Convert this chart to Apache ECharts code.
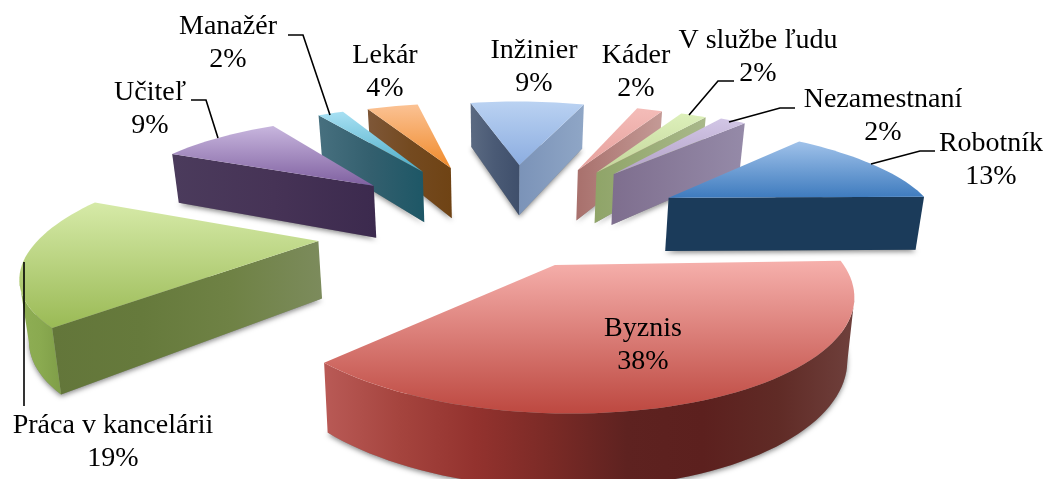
<!DOCTYPE html>
<html>
<head>
<meta charset="utf-8">
<script src="https://cdn.jsdelivr.net/npm/echarts@6/dist/echarts.min.js"></script>
<style>html,body{margin:0;padding:0;background:#fff}#c{width:1050px;height:479px}</style>
</head>
<body>
<div id="c"></div>
<script>
const categories = ['Byznis','Práca v kancelárii','Učiteľ','Manažér','Lekár','Inžinier','Káder','V službe ľudu','Nezamestnaní','Robotník'];
const values = [38,19,9,2,4,9,2,2,2,13];
const explode = [0.42,0.665,0.667,0.69,0.69,0.70,0.71,0.72,0.745,0.72];
const explodeTurn = [-4,-4,0,1.9,1.4,2,2.6,1.9,0,0];
const arcTurn = [-1.5,-1,0,0,0,-1.6,-0.8,0,0,0];
const radiusX = [0.98,1,1,1,1,1,1,1,1,1];
const topColors = [['#f6b0ac','#bd4840'],['#d6eaa8','#9aba55'],['#c8b6de','#7f60a0'],['#a8e0f3','#4aabc6'],['#fbc294','#f08a2a'],['#bad2f2','#8cade0'],['#f4bcb8','#e6a09c'],['#ddf0ba','#c3d69b'],['#d2c6e6','#b3a2c7'],['#a0c2ea','#3e7bbe']];
const arcWall = [['#b95a56','#a5443e','#93322e','#7a2a26','#5e2220','#5c201e','#602b26','#6f403c'],['#8fae55','#8aaa50','#7f9e48'],['#666','#666'],['#666','#666'],['#666','#666'],['#666','#666'],['#999','#999'],['#999','#999'],['#999','#999'],['#1b3b5a','#1b3b5a']];
const startWall = [['#888','#888'],['#63763a','#667a3c','#6f8245','#7c8b5c'],['#4b3b5c','#463356','#3c2a4e'],['#47707f','#335f6e','#1d5766'],['#7e5738','#744a20','#6f4314'],['#5b6a82','#4a5a75','#3f4f6b'],['#a8706c','#c49a96'],['#8fa468','#a9b88a'],['#7e6e8e','#958aa8'],['#1b3b5a','#1b3b5a']];
const endWall = [['#888','#888'],['#888','#888'],['#888','#888'],['#888','#888'],['#888','#888'],['#7b93b8','#8fa6c6'],['#a8706c','#c49a96'],['#8fa468','#a9b88a'],['#7e6e8e','#958aa8'],['#1b3b5a','#1b3b5a']];
const labelAnchors = [[643,345],[113,442],[150,109],[228,43],[385,72],[534,67],[636,72],[758,57],[883,116],[991,160]];
const leaders = [null,[[24,406],[24,262]],[[191,100],[206,100],[218,138]],[[288,35],[303,35],[330,115]],null,null,null,[[734,81],[718,81],[689,115]],[[795,108],[780,108],[729,122]],[[935,151],[920,151],[871,164]]];

const CX=500, HY=-253, C=478, A=272, P=0.2055, ROT=-0.7;
const FONT='"Liberation Serif"';
const total = values.reduce((a,b)=>a+b,0);
const rad = d=>d*Math.PI/180;
function project(X,Y){const w=1/(1-P*Y);return [CX+A*X*w,HY+C*w];}
function drop(p){return [CX+(p[0]-CX)*0.98,p[1]+0.1*(p[1]+335)];}
function grad(cols,vertical){
  return {type:'linear',x:0,y:0,x2:vertical?0:1,y2:vertical?1:0,
    colorStops:cols.map((c,i)=>({offset:cols.length>1?i/(cols.length-1):0,color:c}))};
}
function wall(pts,fill,z){
  const bottom=pts.map(drop).reverse();
  return {type:'polygon',shape:{points:pts.concat(bottom)},style:{fill:fill,stroke:null},z2:z,silent:true};
}
function sliceGeom(i){
  let before=0;for(let k=0;k<i;k++)before+=values[k];
  const a0=ROT+before/total*360,a1=ROT+(before+values[i])/total*360,m=(a0+a1)/2+explodeTurn[i];
  const ox=explode[i]*Math.cos(rad(m)),oy=explode[i]*Math.sin(rad(m));
  const arc=[];const n=Math.max(6,Math.round((a1-a0)/2));
  for(let k=0;k<=n;k++){const a=rad(a0+arcTurn[i]+(a1-a0)*k/n);arc.push(project(ox+radiusX[i]*Math.cos(a),oy+Math.sin(a)));}
  return {apex:project(ox,oy),arc};
}
function renderItem(params){
  const i=params.dataIndex,g=sliceGeom(i),z=Math.round(g.apex[1])*10,kids=[];
  const outline=[g.apex].concat(g.arc);
  const base=outline.map(drop);
  kids.push({type:'polygon',shape:{points:base},style:{fill:'#8a8a8a',shadowBlur:5,shadowColor:'rgba(0,0,0,0.45)',shadowOffsetY:2},z2:z,silent:true});
  const first=g.arc[0],last=g.arc[g.arc.length-1];
  if(first[0]<g.apex[0]) kids.push(wall([g.apex,first],grad(startWall[i]),z+1));
  if(g.apex[0]<last[0]) kids.push(wall([last,g.apex],grad(endWall[i]),z+1));
  let run=[];const runs=[];
  for(let k=0;k<g.arc.length-1;k++){
    if(g.arc[k+1][0]<g.arc[k][0]){if(!run.length)run.push(g.arc[k]);run.push(g.arc[k+1]);}
    else if(run.length){runs.push(run);run=[];}
  }
  if(run.length)runs.push(run);
  runs.forEach(r=>kids.push(wall(r,grad(arcWall[i]),z+2)));
  kids.push({type:'polygon',shape:{points:outline},style:{fill:grad(topColors[i],true)},z2:z+3,silent:true});
  return {type:'group',children:kids};
}
function renderLabel(params){
  const i=params.dataIndex,kids=[];
  if(leaders[i])kids.push({type:'polyline',shape:{points:leaders[i]},style:{stroke:'#000',lineWidth:1.6,fill:null},z2:9000,silent:true});
  kids.push({type:'text',x:labelAnchors[i][0],y:labelAnchors[i][1],z2:9001,silent:true,
    style:{text:categories[i]+'\n'+values[i]+'%',fill:'#000',font:'28px '+FONT,lineHeight:33,align:'center',verticalAlign:'middle'}});
  return {type:'group',children:kids};
}
const chart=echarts.init(document.getElementById('c'),null,{renderer:'canvas'});
const data=categories.map((name,i)=>({name,value:values[i]}));
chart.setOption({
  animation:false,backgroundColor:'#fff',
  series:[
    {type:'custom',coordinateSystem:'none',renderItem:renderItem,data:data,silent:true,clip:false},
    {type:'custom',coordinateSystem:'none',renderItem:renderLabel,data:data,silent:true,z:5}
  ]
});
</script>
</body>
</html>
